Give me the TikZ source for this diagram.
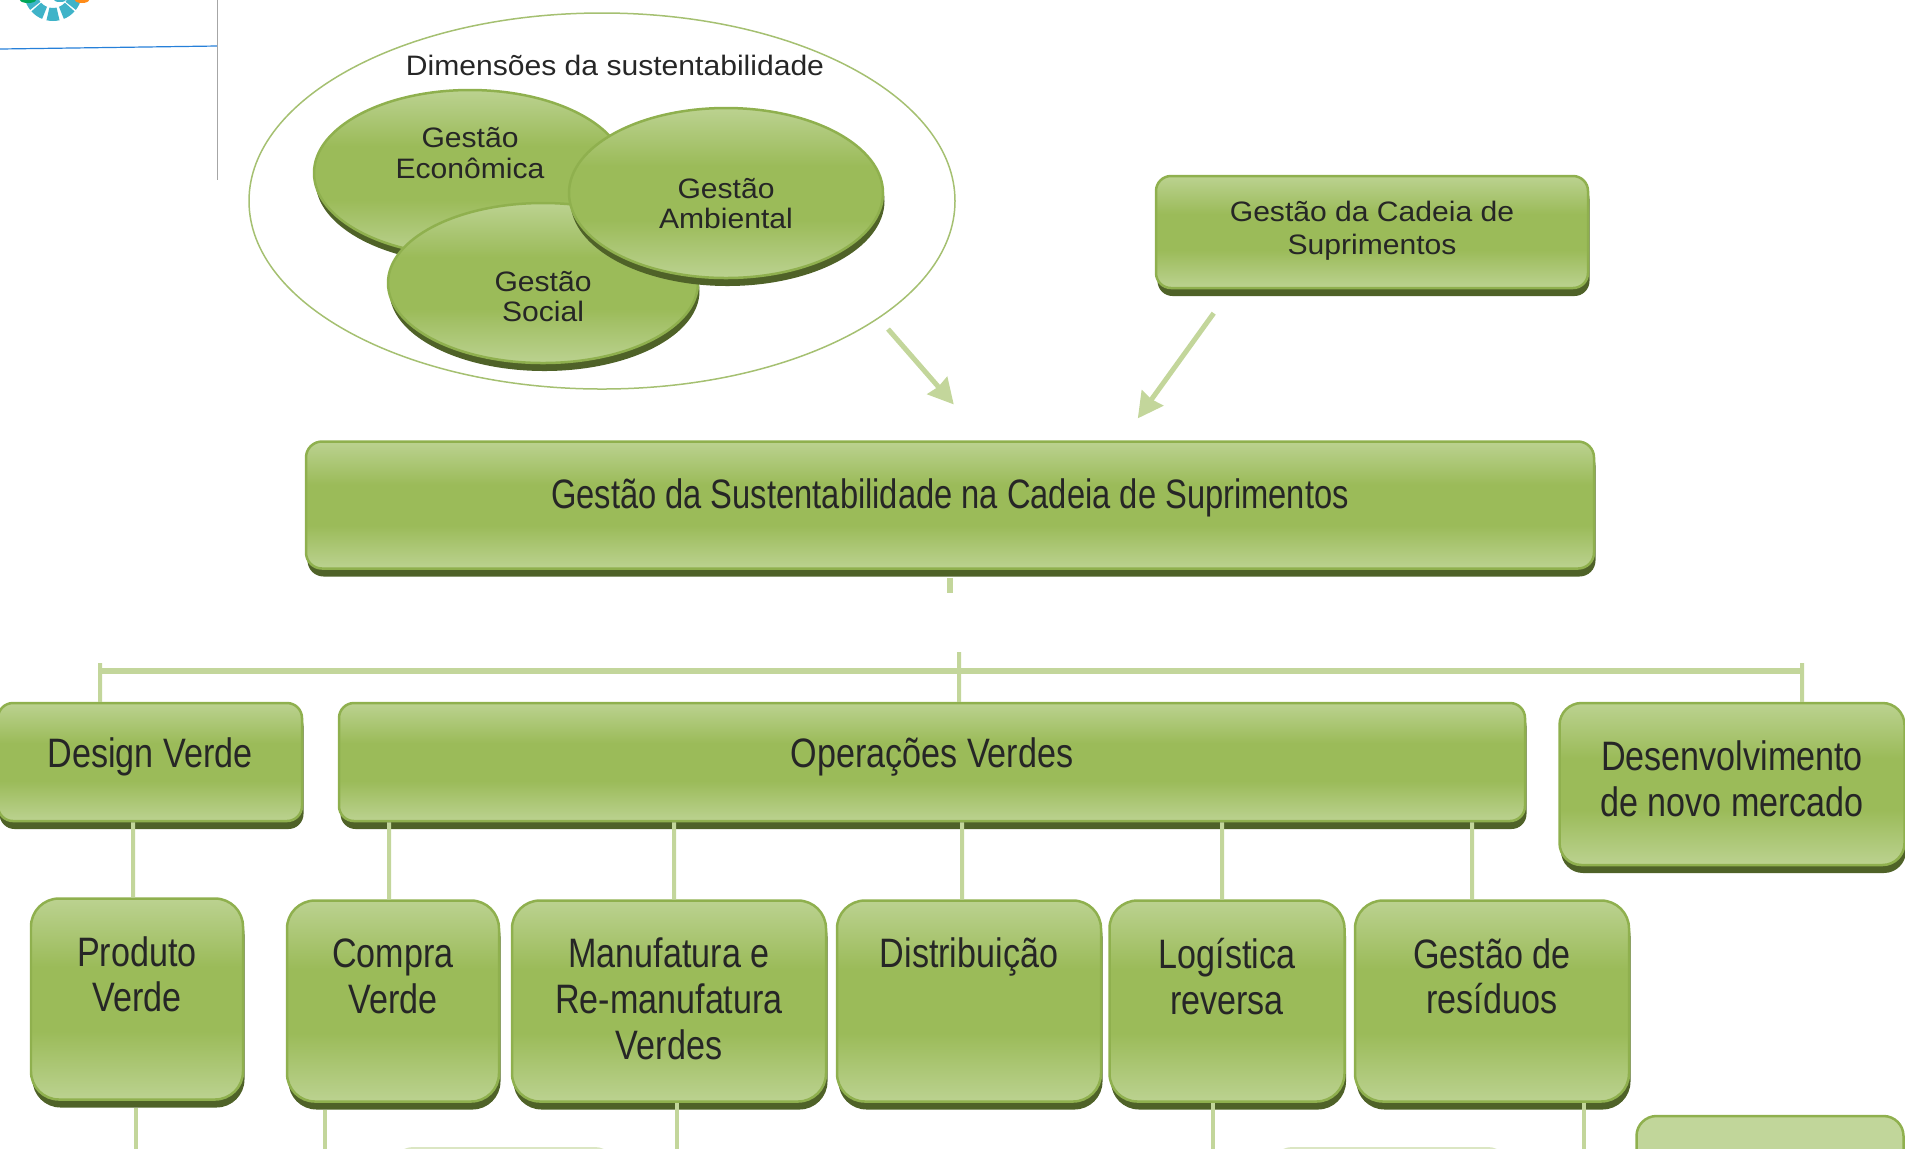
\documentclass[tikz,border=0pt]{standalone}
\usepackage{fontspec}
\usetikzlibrary{arrows.meta,shapes.geometric,shadows}
\setmainfont{Liberation Sans}
\newfontfamily\narrowfont[FakeStretch=0.83]{Liberation Sans}
\newfontfamily\titlefont[FakeStretch=0.795]{Liberation Sans}
\newfontfamily\widefont[FakeStretch=1.07]{Liberation Sans}
\definecolor{lightgreen}{HTML}{C1D69A}
\definecolor{midgreen}{HTML}{9BBB59}
\definecolor{rimgreen}{HTML}{8FB04E}
\definecolor{shadowgreen}{HTML}{4F6228}
\definecolor{linkgreen}{HTML}{C3D69B}
\definecolor{logoteal}{HTML}{3FB3C8}
\pgfdeclareverticalshading{glossy}{100bp}{color(0bp)=(lightgreen); color(22bp)=(lightgreen); color(42bp)=(midgreen); color(58bp)=(midgreen); color(78bp)=(lightgreen); color(100bp)=(lightgreen)}
\begin{document}
\begin{tikzpicture}[
       node distance=2.5cm,
       glossy/.style={shading=glossy, draw=rimgreen, line width=.025cm, text=black!85, align=center, inner sep=0pt,
           general shadow={fill=shadowgreen, shadow xshift=.015cm, shadow yshift=-.08cm}},
       box/.style={rectangle, glossy, rounded corners=.15cm, font=\narrowfont\fontsize{11.7}{13}\selectfont},
       tallbox/.style={box, rounded corners=.28cm, minimum height=2.01cm},
       smallbox/.style={rectangle, glossy, rounded corners=.15cm, font=\widefont\fontsize{8}{9.3}\selectfont},
       disc/.style={ellipse, glossy, font=\widefont\fontsize{8}{8.6}\selectfont},
       partbox/.style={rectangle, rounded corners=.2cm, minimum height=1cm, fill=lightgreen},
       link/.style={linkgreen, line width=.04cm},
       bar/.style={linkgreen, line width=.06cm},
       arrow/.style={-{Stealth[length=.25cm,width=.26cm,inset=.015cm]}, linkgreen, line width=.05cm}
   ]
   \useasboundingbox (0,0) rectangle (19.05,-11.48);

   % logo and page rules
   \begin{scope}[shift={(.53,.08)}]
      \foreach \a in {-155,-125,-90,-55,-25}
         \fill[logoteal] (\a-13:.16) -- (\a-13:.29) arc[start angle=\a-13, end angle=\a+13, radius=.29]
            -- (\a+13:.16) arc[start angle=\a+13, end angle=\a-13, radius=.16] -- cycle;
   \end{scope}
   \fill[orange!90] (.82,0) ellipse (.07 and .03);
   \fill[teal!70!green] (.28,0) ellipse (.08 and .03);
   \fill[logoteal] (.60,0) ellipse (.06 and .02);
   \draw[blue!50!cyan!70!gray, line width=.012cm] (0,-.49) -- (2.17,-.46);
   \draw[gray!70, line width=.01cm] (2.17,0) -- (2.17,-1.80);

   \node[box, minimum width=12.88cm, minimum height=1.27cm, text depth=.22cm, rounded corners=.16cm, font=\titlefont\fontsize{11.7}{13}\selectfont] (main) at (9.50,-5.05) {Gestão da Sustentabilidade na Cadeia de Suprimentos};
   \node[smallbox, above of=main, node distance=2.73cm, xshift=4.22cm, minimum width=4.32cm, minimum height=1.12cm, text depth=.09cm] (cadeia) {Gestão da Cadeia de\\Suprimentos};

   \node[ellipse, draw=rimgreen!80, line width=.015cm, minimum width=7.06cm, minimum height=3.76cm, above of=main, node distance=3.04cm, xshift=-3.48cm] (outer) {};
   \node[above of=outer, node distance=1.36cm, xshift=.13cm, font=\widefont\fontsize{8}{8.6}\selectfont, text=black!85] (dimensoes) {Dimensões da sustentabilidade};
   \node[disc, left of=outer, node distance=1.32cm, yshift=.28cm, minimum width=3.12cm, minimum height=1.66cm, text depth=.40cm] (economica) {Gestão\\Econômica};
   \node[disc, right of=economica, node distance=.73cm, yshift=-1.10cm, minimum width=3.10cm, minimum height=1.60cm, text height=.77cm] (social) {Gestão\\Social};
   \node[disc, right of=outer, node distance=1.24cm, yshift=.08cm, minimum width=3.14cm, minimum height=1.70cm, text height=.72cm] (ambiental) {Gestão\\Ambiental};

   \node[box, below of=main, node distance=2.57cm, xshift=-.18cm, minimum width=11.86cm, minimum height=1.18cm, text depth=.18cm] (operacoes) {Operações Verdes};
   \node[box, left of=operacoes, node distance=7.82cm, minimum width=3.04cm, minimum height=1.18cm, text depth=.18cm] (design) {Design Verde};
   \node[box, right of=operacoes, node distance=8.00cm, yshift=-.22cm, minimum width=3.45cm, minimum height=1.62cm, rounded corners=.22cm, text depth=.11cm] (mercado) {Desenvolvimento\\de novo mercado};

   \node[tallbox, below of=design, node distance=2.37cm, xshift=-.13cm, minimum width=2.12cm, text depth=.5cm] (produto) {Produto\\Verde};
   \node[tallbox, right of=produto, node distance=2.56cm, yshift=-.02cm, minimum width=2.12cm, text depth=.50cm] (compra) {Compra\\Verde};
   \node[tallbox, right of=compra, node distance=2.76cm, minimum width=3.14cm, text depth=.05cm] (manufatura) {Manufatura e\\Re-manufatura\\Verdes};
   \node[tallbox, right of=manufatura, node distance=3.00cm, minimum width=2.64cm, text depth=.96cm] (distribuicao) {Distribuição};
   \node[tallbox, right of=distribuicao, node distance=2.58cm, minimum width=2.35cm, text depth=.50cm] (logistica) {Logística\\reversa};
   \node[tallbox, right of=logistica, node distance=2.65cm, minimum width=2.74cm, text depth=.50cm] (residuos) {Gestão de\\resíduos};

   \node[partbox, below of=compra, node distance=1.96cm, xshift=1.11cm, minimum width=2.22cm, fill=linkgreen!60] (parteA) {};
   \node[partbox, below of=logistica, node distance=1.96cm, xshift=1.63cm, minimum width=2.36cm, fill=linkgreen!60] (parteB) {};
   \node[partbox, below of=residuos, node distance=1.65cm, xshift=2.78cm, minimum width=2.67cm, draw=rimgreen, line width=.025cm] (parteC) {};

   \coordinate[below of=main, node distance=.88cm] (stubend);
   \coordinate (barL) at (1.00,-6.71);
   \coordinate (barM) at (9.59,-6.71);
   \coordinate (barR) at (18.02,-6.71);

   \draw[arrow, shorten <=.14cm, shorten >=.475cm] (outer.-23.6) -- ([xshift=.35cm]main.north);
   \draw[arrow, shorten <=.295cm, shorten >=.27cm] ([xshift=-1.41cm]cadeia.south) -- ([xshift=1.72cm]main.north);

   \draw[bar, shorten <=.08cm] (main.south) -- (stubend);
   \draw[bar] (barL) -- (barR);
   \draw[link] ([yshift=.08cm]barL) -- ([xshift=-.50cm]design.north);
   \draw[link] ([yshift=.19cm]barM) -- ([xshift=.27cm]operacoes.north);
   \draw[link] ([yshift=.08cm]barR) -- ([xshift=.70cm]mercado.north);

   \draw[link] ([xshift=-.17cm]design.south) -- ([xshift=-.04cm]produto.north);
   \draw[link] ([xshift=-5.43cm]operacoes.south) -- ([xshift=-.04cm]compra.north);
   \draw[link] ([xshift=-2.58cm]operacoes.south) -- ([xshift=.05cm]manufatura.north);
   \draw[link] ([xshift=.30cm]operacoes.south) -- ([xshift=-.07cm]distribuicao.north);
   \draw[link] ([xshift=2.90cm]operacoes.south) -- ([xshift=-.05cm]logistica.north);
   \draw[link] ([xshift=5.40cm]operacoes.south) -- ([xshift=-.20cm]residuos.north);

   \draw[link] ([xshift=-.01cm, yshift=-.07cm]produto.south) -- ++(0,-.5);
   \draw[link] ([xshift=-.68cm, yshift=-.07cm]compra.south) -- ++(0,-.5);
   \draw[link] ([xshift=.08cm]manufatura.south) -- ++(0,-.6);
   \draw[link] ([xshift=-.14cm]logistica.south) -- ++(0,-.6);
   \draw[link] ([xshift=.92cm]residuos.south) -- ++(0,-.6);
   \end{tikzpicture}
\end{document}
